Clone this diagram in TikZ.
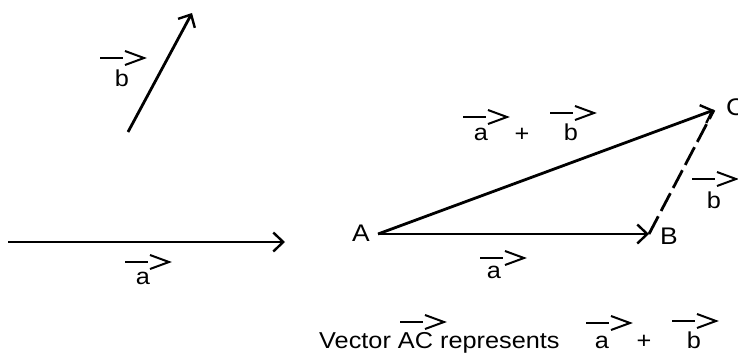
\documentclass[tikz,border=0pt]{standalone}
\usepackage{fontspec}
\setmainfont{Liberation Sans}[FakeStretch=1.1]
\usetikzlibrary{arrows.meta}
\begin{document}
\begin{tikzpicture}[x=1pt,y=-1pt,
 vline/.style={line width=2.8pt, -{Straight Barb[length=10pt,width=19pt,line width=2.4pt]}},
 lbl/.style={font=\fontsize{23}{27}\selectfont, inner sep=0pt},
 pt/.style={font=\fontsize{24}{28}\selectfont, inner sep=0pt},
 vmark/.pic={\draw[line width=2pt] (0,0)--(23,0); \draw[line width=2pt, line join=miter] (25,-7)--(44,0)--(25,7);}
]
\useasboundingbox (0,0) rectangle (738,354);
% free vector b
\coordinate (b0) at (128,132);
\coordinate (b1) at (192,13);
\draw[vline] (b0) -- (b1);
\node[lbl] (lb1) at (122,78) {b};
\pic at (100,58) {vmark};
% free vector a
\coordinate (a0) at (8,242);
\coordinate (a1) at (285,242);
\draw[vline] (a0) -- (a1);
\node[lbl] (la1) at (143,278) {a};
\pic at (125,262) {vmark};
% triangle
\coordinate (A) at (378,234);
\coordinate (B) at (649,234);
\coordinate (C) at (714,110);
\draw[vline] (A) -- (B);
\draw[vline] (A) -- (C);
\draw[line width=2.8pt, dash pattern=on 20pt off 6pt] (B) -- (C);
\node[pt] (tA) at (361,233) {A};
\node[pt] (tB) at (669,236) {B};
\node[pt, anchor=west] (tC) at (726,107) {C};
% a + b label
\node[lbl] (la2) at (481,134) {a};
\pic at (463,117) {vmark};
\node[lbl] (plus1) at (522,135) {+};
\node[lbl] (lb2) at (571,132) {b};
\pic at (550,113) {vmark};
% b by BC
\node[lbl] (lb3) at (714,200) {b};
\pic at (692,179) {vmark};
% a under AB
\node[lbl] (la3) at (494,272) {a};
\pic at (480,258) {vmark};
% bottom text
\node[lbl, anchor=base west] (cap) at (319,348) {Vector AC represents};
\pic at (400,322) {vmark};
\node[lbl, anchor=base] (la4) at (602,348) {a};
\pic at (586,323) {vmark};
\node[lbl] (plus2) at (644,342) {+};
\node[lbl, anchor=base] (lb4) at (694,348) {b};
\pic at (672,321) {vmark};
\end{tikzpicture}
\end{document}
